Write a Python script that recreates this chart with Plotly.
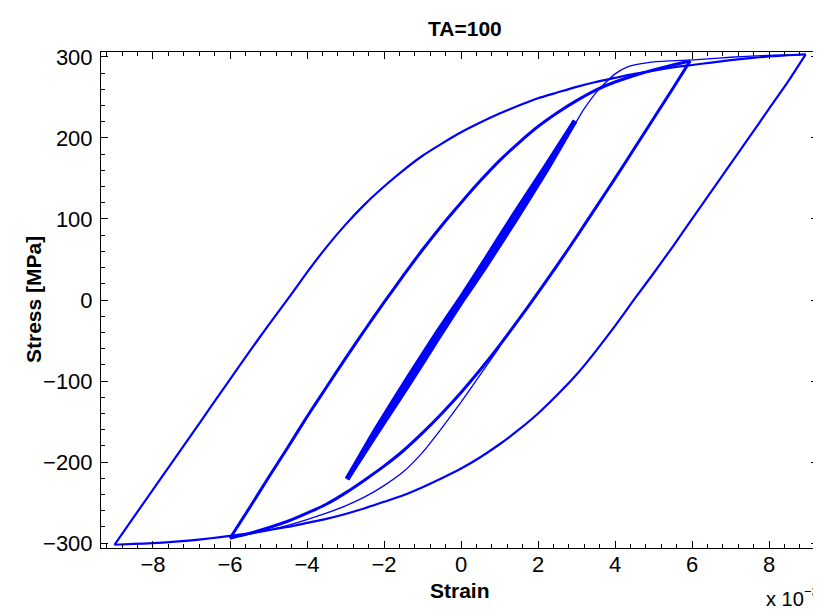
import plotly.graph_objects as go

# Strain values in units of 1e-3, stress in MPa
outer_up_strain = [-9.0, -8.5, -8.0, -7.5, -7.0, -6.5, -6.0, -5.5, -5.0, -4.5, -4.0, -3.5, -3.0, -2.5, -2.0, -1.5,
                   -1.0, -0.5, 0.0, 0.5, 1.0, 1.5, 2.0, 2.5, 3.0, 3.5, 4.0, 4.5, 5.0, 5.5, 6.0, 6.5, 7.0, 7.5,
                   8.0, 8.5, 8.95]
outer_up_stress = [-302, -268, -234, -200, -166, -132, -98, -64, -31, 1, 34, 65, 93, 118, 140, 160,
                   178, 193, 207, 219, 230, 240, 249, 256, 263, 269, 274, 279, 283, 287, 290, 293, 296, 298.5,
                   300.5, 302, 303]

outer_dn_strain = [8.95, 8.5, 8.0, 7.5, 7.0, 6.5, 6.0, 5.5, 5.0, 4.5, 4.0, 3.5, 3.0, 2.5, 2.0, 1.5,
                   1.0, 0.5, 0.0, -0.5, -1.0, -1.5, -2.0, -2.5, -3.0, -3.5, -4.0, -4.5, -5.0, -5.5, -6.0, -6.5,
                   -7.0, -7.5, -8.0, -8.5, -9.0]
outer_dn_stress = [303, 270, 236, 202, 168, 134, 100, 66, 33, 1, -32, -63, -92, -117, -140, -160,
                   -178, -194, -208, -220, -231, -241, -249, -257, -264, -270, -275, -280, -284, -288, -291, -294,
                   -296.5, -298.5, -300, -301, -302]

mid_up_strain = [-6.0, -5.5, -5.0, -4.5, -4.0, -3.5, -3.0, -2.5, -2.0, -1.5, -1.0, -0.5, 0.0, 0.5, 1.0, 1.5,
                 2.0, 2.5, 3.0, 3.5, 4.0, 4.5, 5.0, 5.5, 5.95]
mid_up_stress = [-294, -257, -219, -182, -144, -108, -72, -37, -3, 30, 62, 92, 120, 147, 172, 194,
                 214, 231, 246, 259, 269, 277, 284, 290, 295]

mid_dn_strain = [5.95, 5.5, 5.0, 4.5, 4.0, 3.5, 3.0, 2.5, 2.0, 1.5, 1.0, 0.5, 0.0, -0.5, -1.0, -1.5,
                 -2.0, -2.5, -3.0, -3.5, -4.0, -4.5, -5.0, -5.5, -6.0]
mid_dn_stress = [295, 261, 224, 187, 150, 114, 78, 43, 9, -24, -56, -86, -114, -140, -164, -186,
                 -205, -222, -238, -252, -263, -273, -281, -288, -294]

first_dn_strain = [1.0, 0.5, 0.0, -0.5, -1.0, -1.5, -2.0, -2.5, -3.0, -3.5, -4.0, -4.5, -5.0, -5.5, -6.0]
first_dn_stress = [-58, -92, -126, -158, -188, -212, -229, -243, -254, -263, -271, -278, -284, -289, -294]

inner_up_strain = [-2.96, -2.2, -1.4, -0.6, 0.0, 0.6, 1.4, 2.2, 2.96]
inner_up_stress = [-221, -159, -98, -39, 3, 47, 107, 165, 221]
inner_dn_strain = [2.96, 2.2, 1.4, 0.6, 0.0, -0.6, -1.4, -2.2, -2.96]
inner_dn_stress = [221, 159, 98, 39, -3, -47, -107, -165, -221]

trans1_strain = [2.97, 3.2, 3.56, 4.0, 4.34, 4.86, 5.4, 5.95]
trans1_stress = [218, 236, 259, 279, 288, 293, 295, 296]

trans2_strain = [5.95, 6.4, 7.0, 7.8, 8.5, 8.95]
trans2_stress = [296, 297.5, 299.5, 301.5, 302.5, 303]

x_ticks = [-8, -6, -4, -2, 0, 2, 4, 6, 8]
y_ticks = [-300, -200, -100, 0, 100, 200, 300]

BLUE = "#0000FF"
FONT = "Liberation Sans, Arial, sans-serif"

fig = go.Figure()

def add(xs, ys, w):
    fig.add_trace(go.Scatter(x=xs, y=ys, mode="lines",
                             line=dict(color=BLUE, width=w, shape="spline", smoothing=0.5),
                             showlegend=False, hoverinfo="skip"))

add(outer_up_strain, outer_up_stress, 2.2)
add(outer_dn_strain, outer_dn_stress, 2.2)
add(trans2_strain, trans2_stress, 1.3)
add(mid_up_strain, mid_up_stress, 3)
add(mid_dn_strain, mid_dn_stress, 3)
add(first_dn_strain, first_dn_stress, 1.3)
add(trans1_strain, trans1_stress, 1.3)
add(inner_up_strain, inner_up_stress, 5)
add(inner_dn_strain, inner_dn_stress, 5)

axis_common = dict(
    showline=True, linecolor="black", linewidth=1, mirror="ticks",
    ticks="inside", ticklen=7, tickwidth=1, tickcolor="black",
    showgrid=False, zeroline=False,
    tickfont=dict(family=FONT, size=22, color="black"),
)

fig.update_layout(
    width=821, height=609,
    margin=dict(l=93, r=11, t=44, b=69),
    paper_bgcolor="white", plot_bgcolor="white",
    xaxis=dict(range=[-9.35, 9.27], tickvals=x_ticks, ticklabelstandoff=-3,
               minor=dict(ticks="inside", ticklen=4, dtick=0.4, tick0=0, tickcolor="black"),
               **axis_common),
    yaxis=dict(range=[-306, 306], tickvals=y_ticks, ticklabelstandoff=3,
               minor=dict(ticks="inside", ticklen=4, dtick=20, tick0=0, tickcolor="black"),
               **axis_common),
)

fig.add_annotation(text="<b>TA=100</b>", xref="paper", yref="paper", x=0.507, y=1.0, yanchor="middle",
                   yshift=24, showarrow=False, font=dict(family=FONT, size=21, color="black"))
fig.add_annotation(text="<b>Strain</b>", xref="paper", yref="paper", x=0.5, y=0, yanchor="middle",
                   yshift=-42, showarrow=False, font=dict(family=FONT, size=21, color="black"))
fig.add_annotation(text="<b>Stress [MPa]</b>", xref="paper", yref="paper", x=0, y=0.5, xanchor="center",
                   xshift=-68, textangle=-90, showarrow=False, font=dict(family=FONT, size=21, color="black"))
# axis exponent label "x 10^-3", drawn as base text plus a raised exponent
fig.add_annotation(text="x 10", xref="paper", yref="paper", x=0.925, y=0, xanchor="left",
                   yanchor="middle", yshift=-51, showarrow=False,
                   font=dict(family=FONT, size=20, color="black"))
fig.add_annotation(text="−3", xref="paper", yref="paper", x=0.977, y=0, xanchor="left",
                   yanchor="middle", yshift=-43, showarrow=False,
                   font=dict(family=FONT, size=13, color="black"))

fig.write_html("out.html")
